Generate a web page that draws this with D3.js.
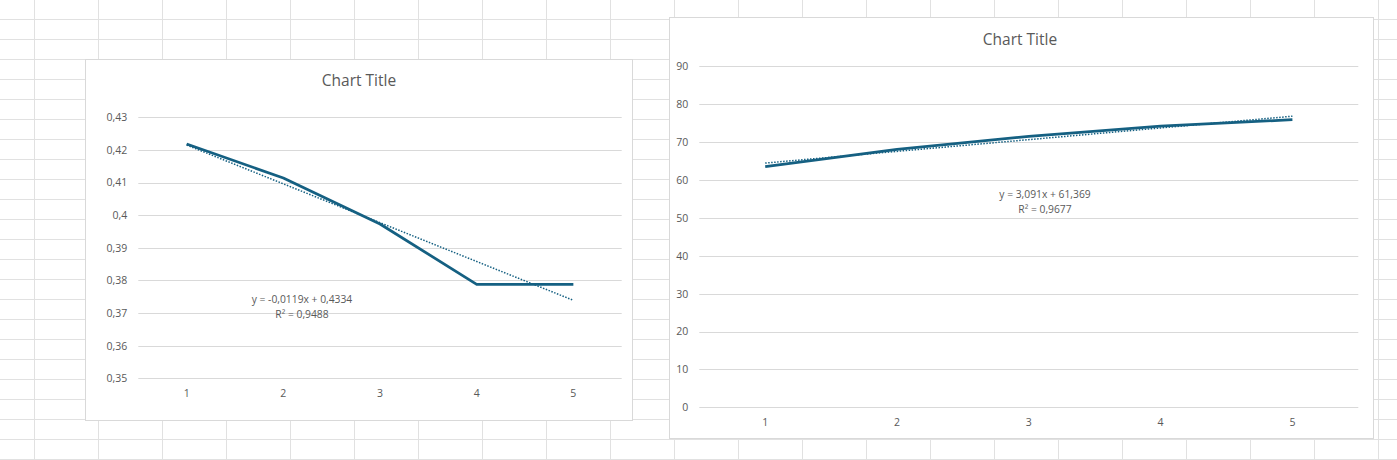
<!DOCTYPE html>
<html><head><meta charset="utf-8">
<script src="https://cdn.jsdelivr.net/npm/d3@7"></script>
<style>
html,body{margin:0;padding:0;background:#fff;}
svg{display:block;font-family:"Open Sans","Noto Sans",sans-serif;}
</style></head>
<body>
<svg id="c" width="1397" height="460"></svg>
<script>
// ---- data ----
const categories = [1, 2, 3, 4, 5];
const leftValues = [0.4218, 0.4114, 0.3973, 0.3788, 0.3788];
const leftTicks = [0.35, 0.36, 0.37, 0.38, 0.39, 0.40, 0.41, 0.42, 0.43];
const leftTickLabels = ["0,35", "0,36", "0,37", "0,38", "0,39", "0,4", "0,41", "0,42", "0,43"];
const leftTrend = [-0.0119, 0.4334];
const leftTrendText = ["y = -0,0119x + 0,4334", "R² = 0,9488"];

const rightValues = [63.5, 68.1, 71.5, 74.2, 75.9];
const rightTicks = [0, 10, 20, 30, 40, 50, 60, 70, 80, 90];
const rightTickLabels = ["0", "10", "20", "30", "40", "50", "60", "70", "80", "90"];
const rightTrend = [3.091, 61.369];
const rightTrendText = ["y = 3,091x + 61,369", "R² = 0,9677"];

const chartTitle = "Chart Title";

// ---- drawing ----
const svg = d3.select("#c");
const W = 1397, H = 460;
const lineColor = "#156082";
const textColor = "#595959";

// spreadsheet grid
const sheet = svg.append("g");
for (let x = 34; x < W; x += 64) {
  sheet.append("line").attr("x1", x + 0.5).attr("x2", x + 0.5).attr("y1", 0).attr("y2", H)
    .attr("stroke", "#e1e1e1").attr("stroke-width", 1);
}
for (let y = 19; y < H; y += 20) {
  sheet.append("line").attr("x1", 0).attr("x2", W).attr("y1", y + 0.5).attr("y2", y + 0.5)
    .attr("stroke", "#e1e1e1").attr("stroke-width", 1);
}

function drawChart(cfg) {
  const g = svg.append("g");
  g.append("rect").attr("x", cfg.box[0] + 0.5).attr("y", cfg.box[1] + 0.5)
    .attr("width", cfg.box[2] - cfg.box[0]).attr("height", cfg.box[3] - cfg.box[1])
    .attr("fill", "#fff").attr("stroke", "#d9d9d9").attr("stroke-width", 1);

  const x = d3.scaleBand().domain(categories).range([cfg.plot[0], cfg.plot[2]]);
  const y = d3.scaleLinear().domain(cfg.domain).range([cfg.plot[3], cfg.plot[1]]);
  const cx = d => x(d) + x.bandwidth() / 2;

  // gridlines
  g.append("g").selectAll("line").data(cfg.ticks).join("line")
    .attr("x1", cfg.plot[0]).attr("x2", cfg.plot[2])
    .attr("y1", d => Math.round(y(d)) + 0.5).attr("y2", d => Math.round(y(d)) + 0.5)
    .attr("stroke", "#d9d9d9").attr("stroke-width", 1);

  // y axis labels
  const yAxis = d3.axisLeft(y).tickValues(cfg.ticks)
    .tickFormat((d, i) => cfg.tickLabels[i]).tickSize(0).tickPadding(cfg.yPad);
  const ya = g.append("g").attr("transform", `translate(${cfg.plot[0]},0)`).call(yAxis);
  ya.select(".domain").remove();
  ya.selectAll("text").attr("fill", textColor).attr("font-size", 10.5)
    .attr("font-family", "'Open Sans',sans-serif");

  // x axis labels
  const xAxis = d3.axisBottom(x).tickSize(0).tickPadding(cfg.xPad);
  const xa = g.append("g").attr("transform", `translate(0,${cfg.plot[3]})`).call(xAxis);
  xa.select(".domain").remove();
  xa.selectAll("text").attr("fill", textColor).attr("font-size", 10.5)
    .attr("font-family", "'Open Sans',sans-serif");

  // title
  g.append("text").attr("x", cfg.titlePos[0]).attr("y", cfg.titlePos[1])
    .attr("text-anchor", "middle").attr("fill", textColor).attr("font-size", 15.5)
    .text(chartTitle);

  // trendline
  const t0 = categories[0], t1 = categories[categories.length - 1];
  g.append("line")
    .attr("x1", cx(t0)).attr("y1", y(cfg.trend[0] * t0 + cfg.trend[1]))
    .attr("x2", cx(t1)).attr("y2", y(cfg.trend[0] * t1 + cfg.trend[1]))
    .attr("stroke", lineColor).attr("stroke-width", 1.5).attr("stroke-dasharray", "1.5,1.5");

  // series line
  const line = d3.line().x((d, i) => cx(categories[i])).y(d => y(d));
  g.append("path").datum(cfg.values).attr("d", line)
    .attr("fill", "none").attr("stroke", lineColor).attr("stroke-width", 2.75)
    .attr("stroke-linejoin", "round");

  // trend label
  const tl = g.append("text").attr("text-anchor", "middle").attr("fill", textColor)
    .attr("font-size", 10.3);
  tl.append("tspan").attr("x", cfg.trendPos[0]).attr("y", cfg.trendPos[1]).text(cfg.trendText[0]);
  tl.append("tspan").attr("x", cfg.trendPos[0]).attr("y", cfg.trendPos[1] + 14.5).text(cfg.trendText[1]);
}

drawChart({
  box: [85, 59, 632, 420],
  plot: [138.3, 117.3, 621.7, 378.3],
  domain: [0.35, 0.43],
  ticks: leftTicks, tickLabels: leftTickLabels,
  values: leftValues, trend: leftTrend, trendText: leftTrendText,
  titlePos: [359, 86], trendPos: [302, 303], yPad: 11, xPad: 11
});
drawChart({
  box: [669, 17, 1373, 438],
  plot: [699.3, 66.3, 1358.3, 407.3],
  domain: [0, 90],
  ticks: rightTicks, tickLabels: rightTickLabels,
  values: rightValues, trend: rightTrend, trendText: rightTrendText,
  titlePos: [1020, 45], trendPos: [1045, 198], yPad: 11, xPad: 11
});
</script>
</body></html>
